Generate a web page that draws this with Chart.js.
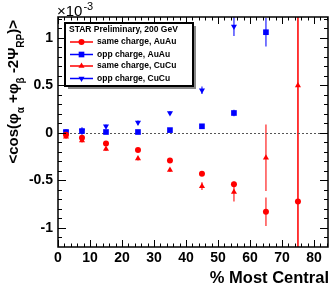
<!DOCTYPE html>
<html>
<head>
<meta charset="utf-8">
<script src="https://cdn.jsdelivr.net/npm/chart.js@4.4.0/dist/chart.umd.min.js"></script>
<style>
html, body { margin: 0; padding: 0; background: #fff; }
#wrap { width: 332px; height: 288px; }
</style>
</head>
<body>
<div id="wrap"><canvas id="chart" width="332" height="288"></canvas></div>
<script>
// values in units of 1e-3, x = % most central
const centFull = [2.5, 7.5, 15, 25, 35, 45, 55, 65, 75];
const centOppAuAu = [2.5, 7.5, 15, 25, 35, 45, 55, 65];
const centOppCuCu = [2.5, 7.5, 15, 25, 35, 45, 55];

const sameAuAu = [-0.02, -0.05, -0.11, -0.18, -0.29, -0.43, -0.54, -0.83, -0.72];
const sameAuAuErr = [0.02, 0.02, 0.02, 0.02, 0.02, 0.02, 0.03, 0.15, 3.0];

const oppAuAu = [0.01, 0.02, 0.01, 0.01, 0.03, 0.07, 0.21, 1.06];
const oppAuAuErr = [0.03, 0.04, 0.02, 0.02, 0.02, 0.02, 0.035, 0.15];

const sameCuCu = [-0.04, -0.08, -0.17, -0.27, -0.39, -0.56, -0.62, -0.26, 0.5];
const sameCuCuErr = [0.02, 0.02, 0.02, 0.02, 0.02, 0.04, 0.1, 0.35, 2.0];

const oppCuCu = [0.01, 0.02, 0.07, 0.11, 0.21, 0.45, 1.12];
const oppCuCuErr = [0.02, 0.02, 0.02, 0.02, 0.02, 0.04, 0.1];

const xTicks = [0, 10, 20, 30, 40, 50, 60, 70, 80];
const yTicks = [-1, -0.5, 0, 0.5, 1];

const legendTitle = 'STAR Preliminary, 200 GeV';

const RED = 'rgb(255,0,0)';
const BLUE = 'rgb(0,0,255)';
const FONT = '"Liberation Sans", Arial, Helvetica, sans-serif';

function points(xs, ys, errs) {
    return xs.map((x, i) => ({ x: x, y: ys[i], err: errs[i] }));
}

function series(label, xs, ys, errs, color, style, radius, rotation) {
    return {
        label: label,
        data: points(xs, ys, errs),
        pointStyle: style,
        pointRadius: radius,
        pointRotation: rotation || 0,
        backgroundColor: color,
        borderColor: color,
        borderWidth: 0,
        showLine: false
    };
}

// error bars under the markers
const errorBars = {
    id: 'errorBars',
    beforeDatasetsDraw(chart) {
        const ctx = chart.ctx;
        const a = chart.chartArea;
        const ys = chart.scales.y;
        ctx.save();
        ctx.beginPath();
        ctx.rect(a.left, a.top, a.right - a.left, a.bottom - a.top);
        ctx.clip();
        chart.data.datasets.forEach((ds, i) => {
            const meta = chart.getDatasetMeta(i);
            ctx.strokeStyle = ds.borderColor.replace('rgb', 'rgba').replace(')', ',0.7)');
            ctx.lineWidth = 1.5;
            meta.data.forEach((pt, j) => {
                const d = ds.data[j];
                ctx.beginPath();
                ctx.moveTo(pt.x, ys.getPixelForValue(d.y + d.err));
                ctx.lineTo(pt.x, ys.getPixelForValue(d.y - d.err));
                ctx.stroke();
            });
        });
        ctx.restore();
    }
};

// ROOT style frame, inner ticks, zero line, titles and legend box
const frame = {
    id: 'frame',
    beforeDatasetsDraw(chart) {
        const ctx = chart.ctx;
        const a = chart.chartArea;
        const y0 = chart.scales.y.getPixelForValue(0);
        ctx.save();
        ctx.strokeStyle = '#555';
        ctx.lineWidth = 1;
        ctx.setLineDash([2, 2]);
        ctx.beginPath();
        ctx.moveTo(a.left, Math.round(y0) + 0.5);
        ctx.lineTo(a.right, Math.round(y0) + 0.5);
        ctx.stroke();
        ctx.restore();
    },
    afterDraw(chart) {
        const ctx = chart.ctx;
        const a = chart.chartArea;
        const xs = chart.scales.x;
        const ys = chart.scales.y;
        ctx.save();
        ctx.strokeStyle = '#000';
        ctx.lineWidth = 1.5;
        ctx.strokeRect(a.left, a.top, a.right - a.left, a.bottom - a.top);

        ctx.lineWidth = 1;
        for (let v = -12; v <= 12; v++) {
            const py = Math.round(ys.getPixelForValue(v / 10)) + 0.5;
            if (py < a.top || py > a.bottom) continue;
            const len = (v % 5 === 0) ? 8 : 4;
            ctx.beginPath();
            ctx.moveTo(a.left, py); ctx.lineTo(a.left + len, py);
            ctx.moveTo(a.right, py); ctx.lineTo(a.right - len, py);
            ctx.stroke();
        }
        for (let v = 0; v <= 84; v += 2) {
            const px = Math.round(xs.getPixelForValue(v)) + 0.5;
            if (px > a.right) continue;
            const len = (v % 10 === 0) ? 7 : 3.5;
            ctx.beginPath();
            ctx.moveTo(px, a.bottom); ctx.lineTo(px, a.bottom - len);
            ctx.moveTo(px, a.top); ctx.lineTo(px, a.top + len);
            ctx.stroke();
        }

        // x10^-3
        ctx.fillStyle = '#000';
        ctx.textBaseline = 'alphabetic';
        ctx.textAlign = 'left';
        ctx.font = '15px ' + FONT;
        ctx.fillText('\u00d710', 57, 16);
        const w10 = ctx.measureText('\u00d710').width;
        ctx.font = '11px ' + FONT;
        ctx.fillText('-3', 57 + w10 + 1, 10);

        // x title
        ctx.font = 'bold 16.5px ' + FONT;
        ctx.textAlign = 'right';
        ctx.fillText('% Most Central', 329, 283);

        // y title, rotated, with subscripts, aligned to the top end
        const parts = [
            ['<cos(\u03c6', false], ['\u03b1', true], [' +\u03c6', false], ['\u03b2', true],
            [' -2\u03a8', false], ['RP', true], [')>', false]
        ];
        const big = 'bold 15px ' + FONT;
        const small = 'bold 10px ' + FONT;
        let total = 0;
        parts.forEach(p => {
            ctx.font = p[1] ? small : big;
            total += ctx.measureText(p[0]).width;
        });
        ctx.translate(18, 20);
        ctx.rotate(-Math.PI / 2);
        ctx.textAlign = 'left';
        let u = -total;
        parts.forEach(p => {
            ctx.font = p[1] ? small : big;
            ctx.fillText(p[0], u, p[1] ? 6 : 0);
            u += ctx.measureText(p[0]).width;
        });
        ctx.restore();

        // legend box
        ctx.save();
        const bx = 65, by = 23, bw = 128, bh = 63;
        ctx.fillStyle = '#888';
        ctx.fillRect(bx + 3, by + 3, bw, bh);
        ctx.fillStyle = '#fff';
        ctx.fillRect(bx, by, bw, bh);
        ctx.strokeStyle = '#000';
        ctx.lineWidth = 2;
        ctx.strokeRect(bx, by, bw, bh);
        ctx.fillStyle = '#000';
        ctx.textBaseline = 'middle';
        ctx.textAlign = 'left';
        ctx.font = 'bold 8.5px ' + FONT;
        ctx.fillText(legendTitle, 69, 30);
        const rows = [42, 54.5, 66, 78.5];
        chart.data.datasets.forEach((ds, i) => {
            const ry = rows[i];
            ctx.strokeStyle = ds.borderColor;
            ctx.lineWidth = 1.5;
            ctx.beginPath();
            ctx.moveTo(70, ry); ctx.lineTo(93, ry);
            ctx.stroke();
            ctx.fillStyle = ds.backgroundColor;
            Chart.helpers.drawPoint(ctx, {
                pointStyle: ds.pointStyle,
                rotation: ds.pointRotation,
                radius: ds.pointRadius,
                borderWidth: 0
            }, 81.5, ry);
            ctx.fillStyle = '#000';
            ctx.font = 'bold 8.5px ' + FONT;
            ctx.fillText(ds.label, 97, ry);
        });
        ctx.restore();
    }
};

new Chart(document.getElementById('chart'), {
    type: 'scatter',
    data: {
        datasets: [
            series('same charge, AuAu', centFull, sameAuAu, sameAuAuErr, RED, 'circle', 3),
            series('opp charge, AuAu', centOppAuAu, oppAuAu, oppAuAuErr, BLUE, 'rect', 4),
            series('same charge, CuCu', centFull, sameCuCu, sameCuCuErr, RED, 'triangle', 3.5),
            series('opp charge, CuCu', centOppCuCu, oppCuCu, oppCuCuErr, BLUE, 'triangle', 3.5, 180)
        ]
    },
    options: {
        responsive: false,
        animation: false,
        devicePixelRatio: 1,
        layout: { padding: { top: 17, right: 4, left: 0, bottom: 0 } },
        plugins: {
            legend: { display: false },
            tooltip: { enabled: false }
        },
        scales: {
            x: {
                type: 'linear',
                min: 0,
                max: 84.4,
                grid: { display: false, drawTicks: false },
                border: { display: false },
                afterBuildTicks: s => { s.ticks = xTicks.map(v => ({ value: v })); },
                afterFit: s => { s.height = 41; },
                ticks: {
                    padding: 3,
                    color: '#000',
                    font: { family: FONT, size: 14, weight: 'bold' },
                    callback: v => String(v)
                }
            },
            y: {
                type: 'linear',
                min: -1.2,
                max: 1.22,
                grid: { display: false, drawTicks: false },
                border: { display: false },
                afterBuildTicks: s => { s.ticks = yTicks.map(v => ({ value: v })); },
                afterFit: s => { s.width = 58; },
                ticks: {
                    padding: 5,
                    color: '#000',
                    font: { family: FONT, size: 14, weight: 'bold' },
                    callback: v => String(v)
                }
            }
        }
    },
    plugins: [errorBars, frame]
});
</script>
</body>
</html>
